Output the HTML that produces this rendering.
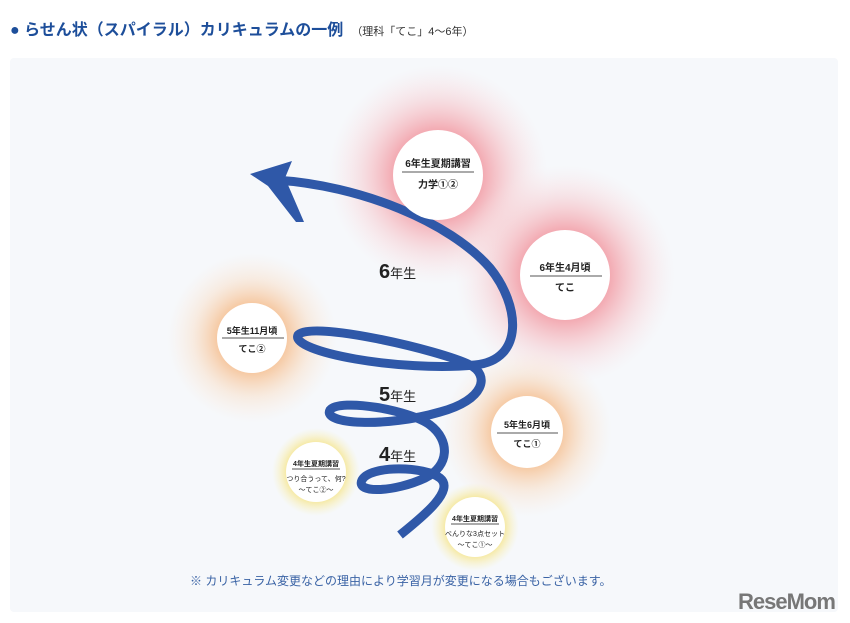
<!DOCTYPE html>
<html><head><meta charset="utf-8"><style>
body{margin:0;width:850px;height:623px;background:#fff;overflow:hidden;font-family:"Liberation Sans","Noto Sans CJK JP",sans-serif;}
.t{position:absolute;left:10px;top:16px;font-size:16px;font-weight:bold;color:#1d4e9a;white-space:nowrap}
.t small{font-size:11px;font-weight:normal;color:#333;margin-left:8px}
.panel{position:absolute;left:10px;top:58px;width:828px;height:554px;background:#f6f8fb;border-radius:4px}
</style></head><body>
<div class="t">● らせん状（スパイラル）カリキュラムの一例<small>（理科「てこ」4〜6年）</small></div>
<div class="panel"></div>
<svg width="850" height="623" style="position:absolute;left:0;top:0" font-family="Liberation Sans, Noto Sans CJK JP, sans-serif">
<defs>
<radialGradient id="r"><stop offset="0.4" stop-color="#f29aa3" stop-opacity="0.85"/><stop offset="0.7" stop-color="#f7c3c8" stop-opacity="0.45"/><stop offset="1" stop-color="#fbe0e2" stop-opacity="0"/></radialGradient>
<radialGradient id="o"><stop offset="0.4" stop-color="#f6bf90" stop-opacity="0.85"/><stop offset="0.7" stop-color="#f9dcc2" stop-opacity="0.45"/><stop offset="1" stop-color="#fbe8d8" stop-opacity="0"/></radialGradient>
<radialGradient id="y"><stop offset="0.55" stop-color="#f5dc60" stop-opacity="0.9"/><stop offset="1" stop-color="#faf0b0" stop-opacity="0"/></radialGradient>
</defs>
<circle cx="438" cy="175" r="110" fill="url(#r)"/>
<circle cx="565" cy="275" r="110" fill="url(#r)"/>
<circle cx="252" cy="338" r="85" fill="url(#o)"/>
<circle cx="527" cy="432" r="85" fill="url(#o)"/>
<circle cx="316" cy="472" r="44" fill="url(#y)"/>
<circle cx="475" cy="527" r="44" fill="url(#y)"/>
<path d="M400,535 C425,515 455,490 440,478 C425,466 370,465 362,480 C355,494 395,492 425,478 C450,466 450,440 430,425 C410,410 340,398 330,410 C322,424 385,428 440,412 C485,400 490,375 470,365 C440,350 310,320 298,335 C290,352 400,372 475,365 C525,360 520,305 490,268 C450,222 360,185 275,180" fill="none" stroke="#2f58a8" stroke-width="9" stroke-linecap="butt"/>
<polygon points="250,174 292,161 285,178 304,222 296,222 268,186" fill="#2f58a8"/>
<g fill="#fff"><circle cx="438" cy="175" r="45"/><circle cx="565" cy="275" r="45"/><circle cx="252" cy="338" r="35"/><circle cx="527" cy="432" r="36"/><circle cx="316" cy="472" r="30"/><circle cx="475" cy="527" r="30"/></g>
<g stroke="#555" stroke-width="1"><line x1="402" y1="172" x2="474" y2="172"/><line x1="530" y1="276" x2="602" y2="276"/><line x1="222" y1="338" x2="284" y2="338"/><line x1="497" y1="433" x2="558" y2="433"/><line x1="292" y1="469" x2="340" y2="469"/><line x1="451" y1="524" x2="499" y2="524"/></g>
<g fill="#222" font-weight="bold" text-anchor="middle">
<text x="438" y="167" font-size="10">6年生夏期講習</text><text x="438" y="188" font-size="10">力学①②</text>
<text x="565" y="271" font-size="10">6年生4月頃</text><text x="565" y="291" font-size="10">てこ</text>
<text x="252" y="334" font-size="9">5年生11月頃</text><text x="252" y="352" font-size="9">てこ②</text>
<text x="527" y="428" font-size="9">5年生6月頃</text><text x="527" y="447" font-size="9">てこ①</text>
<text x="316" y="466" font-size="7">4年生夏期講習</text><text x="316" y="481" font-size="7" font-weight="normal">つり合うって、何?</text><text x="316" y="492" font-size="7" font-weight="normal">〜てこ②〜</text>
<text x="475" y="521" font-size="7">4年生夏期講習</text><text x="475" y="536" font-size="7" font-weight="normal">べんりな3点セット</text><text x="475" y="547" font-size="7" font-weight="normal">〜てこ①〜</text>
</g>
<g fill="#222" font-weight="bold"><text x="379" y="278" font-size="20">6<tspan font-size="13" font-weight="normal">年生</tspan></text>
<text x="379" y="401" font-size="20">5<tspan font-size="13" font-weight="normal">年生</tspan></text>
<text x="379" y="461" font-size="20">4<tspan font-size="13" font-weight="normal">年生</tspan></text></g>
<text x="190" y="585" font-size="12" fill="#3a63a5">※ カリキュラム変更などの理由により学習月が変更になる場合もございます。</text>
<text x="738" y="609" font-size="22" font-weight="bold" fill="#777" letter-spacing="-1">ReseMom</text>
</svg>
</body></html>
